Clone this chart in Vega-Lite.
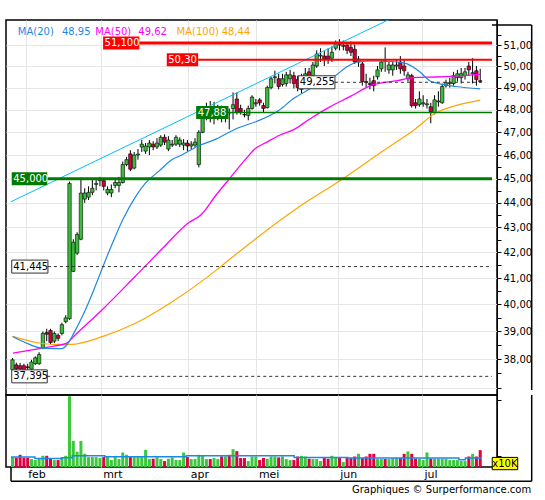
{
"$schema": "https://vega.github.io/schema/vega-lite/v6.json",
"background": "white",
"padding": {"left": 5, "top": 19, "right": 0, "bottom": 0},
"bounds": "flush",
"spacing": 0,
"config": {
  "font": "DejaVu Sans",
  "view": {"stroke": "#000", "strokeWidth": 1.5},
  "axis": {"labelFont": "DejaVu Sans", "labelColor": "#000", "tickColor": "#000", "domainColor": "#000", "gridColor": "#e6e6e6", "labelOverlap": false, "labelFlush": false, "labelBound": false}
},
"datasets": {
"candles": [
{"i":0,"o":37.63,"h":38.04,"l":37.6,"c":37.98,"v":444},
{"i":1,"o":37.8,"h":37.88,"l":37.6,"c":37.66,"v":413},
{"i":2,"o":37.77,"h":37.87,"l":37.56,"c":37.66,"v":546},
{"i":3,"o":37.77,"h":37.84,"l":37.53,"c":37.63,"v":413},
{"i":4,"o":37.73,"h":37.84,"l":37.56,"c":37.7,"v":413},
{"i":5,"o":37.65,"h":37.98,"l":37.6,"c":37.9,"v":355},
{"i":6,"o":37.84,"h":38.1,"l":37.8,"c":38.05,"v":311},
{"i":7,"o":37.84,"h":38.25,"l":37.8,"c":38.17,"v":400},
{"i":8,"o":38.4,"h":39.0,"l":38.36,"c":38.93,"v":502},
{"i":9,"o":38.96,"h":39.1,"l":38.65,"c":38.9,"v":502},
{"i":10,"o":39.04,"h":39.1,"l":38.54,"c":38.6,"v":400},
{"i":11,"o":38.65,"h":39.0,"l":38.58,"c":38.93,"v":311},
{"i":12,"o":38.86,"h":38.93,"l":38.65,"c":38.75,"v":311},
{"i":13,"o":38.93,"h":39.32,"l":38.86,"c":39.25,"v":444},
{"i":14,"o":39.36,"h":39.6,"l":39.3,"c":39.5,"v":502},
{"i":15,"o":39.47,"h":44.88,"l":39.43,"c":44.8,"v":3166},
{"i":16,"o":41.26,"h":42.52,"l":41.23,"c":42.4,"v":1168},
{"i":17,"o":41.97,"h":42.8,"l":41.9,"c":42.71,"v":680},
{"i":18,"o":42.52,"h":45.04,"l":42.48,"c":44.4,"v":1168},
{"i":19,"o":44.15,"h":44.6,"l":43.99,"c":44.4,"v":592},
{"i":20,"o":44.23,"h":44.68,"l":44.11,"c":44.43,"v":444},
{"i":21,"o":44.43,"h":45.0,"l":44.31,"c":44.6,"v":444},
{"i":22,"o":44.76,"h":44.96,"l":44.51,"c":44.8,"v":444},
{"i":23,"o":44.92,"h":45.08,"l":44.68,"c":44.96,"v":400},
{"i":24,"o":44.92,"h":45.0,"l":44.51,"c":44.68,"v":444},
{"i":25,"o":44.4,"h":44.68,"l":44.31,"c":44.55,"v":444},
{"i":26,"o":44.4,"h":44.76,"l":44.23,"c":44.55,"v":311},
{"i":27,"o":44.72,"h":45.0,"l":44.6,"c":44.84,"v":444},
{"i":28,"o":44.72,"h":45.08,"l":44.43,"c":44.84,"v":355},
{"i":29,"o":44.84,"h":45.73,"l":44.8,"c":45.6,"v":650},
{"i":30,"o":45.6,"h":45.93,"l":45.53,"c":45.81,"v":546},
{"i":31,"o":46.06,"h":46.22,"l":45.32,"c":45.4,"v":444},
{"i":32,"o":45.45,"h":46.14,"l":45.4,"c":46.01,"v":444},
{"i":33,"o":46.01,"h":46.27,"l":45.81,"c":46.05,"v":444},
{"i":34,"o":46.36,"h":46.66,"l":46.14,"c":46.48,"v":444},
{"i":35,"o":46.18,"h":46.53,"l":46.06,"c":46.4,"v":768},
{"i":36,"o":46.36,"h":46.66,"l":46.01,"c":46.53,"v":355},
{"i":37,"o":46.48,"h":46.61,"l":46.22,"c":46.36,"v":370},
{"i":38,"o":46.36,"h":46.74,"l":46.27,"c":46.53,"v":444},
{"i":39,"o":46.44,"h":46.87,"l":46.36,"c":46.78,"v":355},
{"i":40,"o":46.78,"h":46.91,"l":46.44,"c":46.57,"v":266},
{"i":41,"o":46.27,"h":46.83,"l":46.18,"c":46.66,"v":370},
{"i":42,"o":46.44,"h":46.66,"l":46.36,"c":46.48,"v":430},
{"i":43,"o":46.48,"h":46.87,"l":46.4,"c":46.78,"v":311},
{"i":44,"o":46.48,"h":46.78,"l":46.36,"c":46.66,"v":311},
{"i":45,"o":46.44,"h":46.7,"l":46.22,"c":46.53,"v":650},
{"i":46,"o":46.53,"h":46.66,"l":46.18,"c":46.4,"v":444},
{"i":47,"o":46.4,"h":46.61,"l":46.27,"c":46.48,"v":355},
{"i":48,"o":46.44,"h":46.74,"l":46.36,"c":46.57,"v":355},
{"i":49,"o":45.6,"h":47.09,"l":45.48,"c":47.0,"v":546},
{"i":50,"o":47.0,"h":48.1,"l":46.96,"c":47.92,"v":502},
{"i":51,"o":47.79,"h":48.32,"l":47.53,"c":48.06,"v":355},
{"i":52,"o":48.14,"h":48.4,"l":47.44,"c":47.79,"v":355},
{"i":53,"o":47.66,"h":48.36,"l":47.35,"c":48.1,"v":400},
{"i":54,"o":47.84,"h":48.23,"l":47.53,"c":47.88,"v":355},
{"i":55,"o":47.97,"h":48.19,"l":47.44,"c":47.7,"v":475},
{"i":56,"o":47.79,"h":48.1,"l":47.44,"c":47.84,"v":475},
{"i":57,"o":47.88,"h":48.06,"l":47.13,"c":47.86,"v":546},
{"i":58,"o":48.06,"h":48.79,"l":47.57,"c":48.23,"v":798},
{"i":59,"o":48.49,"h":48.79,"l":47.79,"c":47.88,"v":709},
{"i":60,"o":48.06,"h":48.23,"l":47.79,"c":47.92,"v":400},
{"i":61,"o":47.79,"h":48.0,"l":47.66,"c":47.77,"v":400},
{"i":62,"o":47.75,"h":48.19,"l":47.53,"c":48.06,"v":266},
{"i":63,"o":48.06,"h":48.66,"l":48.01,"c":48.58,"v":471},
{"i":64,"o":48.27,"h":48.49,"l":48.14,"c":48.32,"v":471},
{"i":65,"o":48.45,"h":48.53,"l":48.19,"c":48.32,"v":313},
{"i":66,"o":48.19,"h":48.32,"l":47.88,"c":48.06,"v":400},
{"i":67,"o":48.1,"h":49.1,"l":48.06,"c":49.01,"v":370},
{"i":68,"o":49.01,"h":49.51,"l":48.93,"c":49.42,"v":470},
{"i":69,"o":49.47,"h":49.79,"l":49.2,"c":49.51,"v":470},
{"i":70,"o":49.42,"h":49.65,"l":48.93,"c":49.06,"v":430},
{"i":71,"o":49.15,"h":49.65,"l":49.06,"c":49.42,"v":470},
{"i":72,"o":49.2,"h":49.74,"l":49.06,"c":49.6,"v":355},
{"i":73,"o":49.42,"h":49.83,"l":49.2,"c":49.6,"v":311},
{"i":74,"o":49.56,"h":49.74,"l":48.97,"c":49.2,"v":311},
{"i":75,"o":49.38,"h":49.56,"l":48.84,"c":49.01,"v":470},
{"i":76,"o":48.93,"h":49.65,"l":48.75,"c":49.47,"v":500},
{"i":77,"o":49.29,"h":49.92,"l":49.1,"c":49.65,"v":470},
{"i":78,"o":49.74,"h":49.92,"l":49.29,"c":49.47,"v":370},
{"i":79,"o":49.56,"h":50.2,"l":49.42,"c":50.06,"v":355},
{"i":80,"o":50.01,"h":50.75,"l":49.92,"c":50.57,"v":355},
{"i":81,"o":50.48,"h":50.85,"l":50.2,"c":50.52,"v":266},
{"i":82,"o":50.48,"h":50.71,"l":50.01,"c":50.34,"v":400},
{"i":83,"o":50.48,"h":50.85,"l":50.11,"c":50.34,"v":370},
{"i":84,"o":50.38,"h":50.94,"l":50.2,"c":50.66,"v":500},
{"i":85,"o":50.85,"h":51.22,"l":50.75,"c":51.08,"v":400},
{"i":86,"o":51.03,"h":51.28,"l":50.75,"c":51.0,"v":400},
{"i":87,"o":50.94,"h":51.22,"l":50.75,"c":50.99,"v":222},
{"i":88,"o":50.99,"h":51.13,"l":50.57,"c":50.75,"v":400},
{"i":89,"o":50.89,"h":51.17,"l":50.48,"c":50.66,"v":400},
{"i":90,"o":50.8,"h":51.03,"l":50.11,"c":50.2,"v":470},
{"i":91,"o":50.2,"h":50.48,"l":49.97,"c":50.34,"v":590},
{"i":92,"o":50.11,"h":50.25,"l":49.1,"c":49.29,"v":400},
{"i":93,"o":49.29,"h":49.65,"l":49.01,"c":49.24,"v":470},
{"i":94,"o":49.2,"h":49.47,"l":48.93,"c":49.15,"v":590},
{"i":95,"o":49.33,"h":49.56,"l":48.84,"c":49.1,"v":590},
{"i":96,"o":49.51,"h":50.01,"l":49.38,"c":49.83,"v":355},
{"i":97,"o":49.88,"h":50.34,"l":49.74,"c":50.2,"v":355},
{"i":98,"o":50.25,"h":50.89,"l":49.74,"c":50.23,"v":355},
{"i":99,"o":49.83,"h":50.2,"l":49.65,"c":50.06,"v":355},
{"i":100,"o":49.83,"h":50.2,"l":49.56,"c":50.06,"v":400},
{"i":101,"o":50.01,"h":50.34,"l":49.83,"c":50.06,"v":400},
{"i":102,"o":50.2,"h":50.48,"l":49.65,"c":49.88,"v":400},
{"i":103,"o":50.01,"h":50.29,"l":49.56,"c":49.79,"v":590},
{"i":104,"o":49.42,"h":49.74,"l":49.29,"c":49.6,"v":697},
{"i":105,"o":49.56,"h":49.65,"l":48.1,"c":48.19,"v":590},
{"i":106,"o":48.32,"h":48.49,"l":48.06,"c":48.19,"v":370},
{"i":107,"o":48.23,"h":48.84,"l":48.14,"c":48.49,"v":370},
{"i":108,"o":48.27,"h":48.66,"l":48.14,"c":48.32,"v":311},
{"i":109,"o":48.23,"h":48.49,"l":48.06,"c":48.27,"v":652},
{"i":110,"o":48.14,"h":48.32,"l":47.4,"c":47.92,"v":370},
{"i":111,"o":47.88,"h":48.66,"l":47.79,"c":48.45,"v":370},
{"i":112,"o":48.36,"h":48.84,"l":48.14,"c":48.4,"v":370},
{"i":113,"o":48.32,"h":49.2,"l":48.27,"c":49.06,"v":370},
{"i":114,"o":49.1,"h":49.38,"l":49.01,"c":49.24,"v":370},
{"i":115,"o":49.2,"h":49.47,"l":49.01,"c":49.24,"v":311},
{"i":116,"o":49.2,"h":49.74,"l":49.1,"c":49.56,"v":311},
{"i":117,"o":49.47,"h":49.83,"l":49.29,"c":49.65,"v":311},
{"i":118,"o":49.47,"h":49.92,"l":49.2,"c":49.65,"v":266},
{"i":119,"o":49.56,"h":49.92,"l":49.38,"c":49.74,"v":266},
{"i":120,"o":50.01,"h":50.2,"l":49.56,"c":49.83,"v":470},
{"i":121,"o":49.65,"h":50.38,"l":49.2,"c":49.7,"v":590},
{"i":122,"o":49.79,"h":50.01,"l":49.1,"c":49.38,"v":470},
{"i":123,"o":49.33,"h":49.88,"l":49.24,"c":49.29,"v":755}
],
"ma20": [
{"i":0,"p":38.82},{"i":3.2,"p":38.61},{"i":7.6,"p":38.4},{"i":13.0,"p":38.38},{"i":14.3,"p":38.51},{"i":16.1,"p":38.93},{"i":18.7,"p":39.65},{"i":21.3,"p":40.52},{"i":23.8,"p":41.45},{"i":26.4,"p":42.4},{"i":29.0,"p":43.3},{"i":32.3,"p":44.23},{"i":34.9,"p":44.8},{"i":38.5,"p":45.32},{"i":41.9,"p":45.81},{"i":44.5,"p":46.01},{"i":48.8,"p":46.4},{"i":53.5,"p":46.7},{"i":59.1,"p":47.18},{"i":64.2,"p":47.48},{"i":70.0,"p":47.97},{"i":74.1,"p":48.53},{"i":78.0,"p":48.93},{"i":81.8,"p":49.29},{"i":84.9,"p":49.56},{"i":87.5,"p":49.92},{"i":90.8,"p":50.2},{"i":95.2,"p":50.25},{"i":101.2,"p":50.2},{"i":103.8,"p":50.11},{"i":107.1,"p":49.74},{"i":109.7,"p":49.33},{"i":112.0,"p":49.2},{"i":116.6,"p":49.06},{"i":123,"p":48.95}
],
"ma50": [
{"i":0.1,"p":38.22},{"i":7.9,"p":38.4},{"i":11.0,"p":38.47},{"i":14.3,"p":38.58},{"i":16.1,"p":38.82},{"i":23.8,"p":39.83},{"i":32.3,"p":41.07},{"i":39.3,"p":42.13},{"i":46.3,"p":43.18},{"i":49.6,"p":43.51},{"i":53.5,"p":44.31},{"i":57.3,"p":45.05},{"i":61.2,"p":45.81},{"i":63.8,"p":46.28},{"i":66.9,"p":46.57},{"i":70.2,"p":46.87},{"i":74.1,"p":47.13},{"i":78.0,"p":47.57},{"i":83.1,"p":48.1},{"i":89.0,"p":48.62},{"i":94.2,"p":49.1},{"i":101.2,"p":49.33},{"i":105.5,"p":49.47},{"i":111.5,"p":49.5},{"i":123,"p":49.62}
],
"ma100": [
{"i":0.1,"p":38.82},{"i":6.6,"p":38.59},{"i":11.0,"p":38.53},{"i":15.3,"p":38.53},{"i":23.8,"p":38.82},{"i":32.3,"p":39.3},{"i":41.1,"p":40.02},{"i":50.9,"p":41.0},{"i":54.8,"p":41.45},{"i":63.8,"p":42.52},{"i":75.4,"p":43.83},{"i":86.5,"p":44.96},{"i":97.8,"p":46.23},{"i":105.5,"p":47.09},{"i":111.5,"p":47.88},{"i":114.8,"p":48.1},{"i":123,"p":48.44}
],
"trend": [{"i":-0.39,"p":44.04},{"i":99.95,"p":52.32}],
"levels": [
{"level":51.1,"label":"51,100","kind":"r1","bx":23.83,"lx":33.36,"ex":126.1},
{"level":50.3,"label":"50,30","kind":"r2","bx":40.57,"lx":48.82,"ex":126.1},
{"level":47.88,"label":"47,88","kind":"s1","bx":48.3,"lx":56.8,"ex":126.1},
{"level":45.0,"label":"45,000","kind":"s2","bx":-0.2,"lx":9.14,"ex":126.1},
{"level":41.445,"label":"41,445","kind":"d","bx":-0.2,"lx":9.32,"ex":126.1},
{"level":37.395,"label":"37,395","kind":"d","bx":-0.2,"lx":9.14,"ex":126.1},
{"level":49.255,"label":"49,255","kind":"d","bx":75.17,"lx":84.8,"ex":124.3}
],
"vavg": [
{"i":-0.39,"v":447},{"i":5.9,"v":385},{"i":13.1,"v":416},{"i":15.7,"v":506},{"i":24.3,"v":461},{"i":45.7,"v":506},{"i":74.1,"v":430},{"i":88.2,"v":403},{"i":117.4,"v":327},{"i":119.1,"v":403},{"i":123.4,"v":403}
]
},
"vconcat": [
{
"width": 491, "height": 375,
"layer": [
{"data": {"name": "candles"},
 "mark": {"type": "rule", "color": "#000", "strokeWidth": 1},
 "encoding": {
  "x": {"field": "i", "type": "quantitative", "scale": {"domain": [-0.39, 126.1], "nice": false, "zero": false},
        "axis": {"values": [3.47, 23.18, 46.24, 64.14, 85.53, 107.68], "labels": false, "ticks": false, "domain": false, "grid": true, "title": null, "minExtent": 0, "maxExtent": 0}},
  "y": {"field": "l", "type": "quantitative", "scale": {"type": "log", "domain": [36.92, 51.97], "nice": false, "zero": false},
        "axis": {"orient": "right", "title": null, "values": [37,37.5,38,38.5,39,39.5,40,40.5,41,41.5,42,42.5,43,43.5,44,44.5,45,45.5,46,46.5,47,47.5,48,48.5,49,49.5,50,50.5,51,51.5],
                 "labelExpr": "datum.value % 1 === 0 && datum.value >= 38 ? replace(format(datum.value, '.2f'), '.', ',') : ''",
                 "tickSize": 4, "labelFontSize": 10, "labelPadding": 2, "grid": true,
                 "gridOpacity": {"condition": {"test": "datum.value % 1 !== 0", "value": 0}, "value": 1}}},
  "y2": {"field": "h"}
 }},
{"data": {"name": "candles"},
 "mark": {"type": "bar", "width": 3.4, "stroke": "#000", "strokeWidth": 0.6},
 "encoding": {
  "x": {"field": "i", "type": "quantitative"},
  "y": {"field": "o", "type": "quantitative"},
  "y2": {"field": "c"},
  "fill": {"condition": {"test": "datum.c > datum.o", "value": "#3cbc3c"}, "value": "#d4003a"}
 }},
{"data": {"name": "trend"},
 "mark": {"type": "line", "color": "#00bfff", "strokeWidth": 1, "clip": true},
 "encoding": {"x": {"field": "i", "type": "quantitative"}, "y": {"field": "p", "type": "quantitative"}}},
{"data": {"name": "ma100"},
 "mark": {"type": "line", "color": "#ffa500", "strokeWidth": 1.2, "interpolate": "monotone"},
 "encoding": {"x": {"field": "i", "type": "quantitative"}, "y": {"field": "p", "type": "quantitative"}}},
{"data": {"name": "ma50"},
 "mark": {"type": "line", "color": "#ff00ff", "strokeWidth": 1.3, "interpolate": "monotone"},
 "encoding": {"x": {"field": "i", "type": "quantitative"}, "y": {"field": "p", "type": "quantitative"}}},
{"data": {"name": "ma20"},
 "mark": {"type": "line", "color": "#1e88e5", "strokeWidth": 1.2, "interpolate": "monotone"},
 "encoding": {"x": {"field": "i", "type": "quantitative"}, "y": {"field": "p", "type": "quantitative"}}},
{"data": {"name": "levels"},
 "mark": {"type": "rule"},
 "encoding": {
  "x": {"field": "lx", "type": "quantitative"},
  "x2": {"field": "ex"},
  "y": {"field": "level", "type": "quantitative"},
  "color": {"condition": [{"test": "datum.kind === 'r1' || datum.kind === 'r2'", "value": "#ff0000"}, {"test": "datum.kind === 'd'", "value": "#333333"}], "value": "#007a00"},
  "strokeWidth": {"condition": [{"test": "datum.kind === 'r1' || datum.kind === 's2'", "value": 3}, {"test": "datum.kind === 'r2'", "value": 2}, {"test": "datum.kind === 's1'", "value": 1.5}], "value": 1},
  "strokeDash": {"condition": {"test": "datum.kind === 'd'", "value": [3, 3]}, "value": [1, 0]}
 }},
{"data": {"name": "levels"},
 "mark": {"type": "bar", "height": 13, "stroke": "#333"},
 "encoding": {
  "x": {"field": "bx", "type": "quantitative"},
  "x2": {"field": "lx"},
  "y": {"field": "level", "type": "quantitative"},
  "fill": {"condition": [{"test": "datum.kind === 'r1' || datum.kind === 'r2'", "value": "#ff0000"}, {"test": "datum.kind === 'd'", "value": "#ffffff"}], "value": "#007a00"},
  "strokeWidth": {"condition": {"test": "datum.kind === 'd'", "value": 1}, "value": 0}
 }},
{"data": {"name": "levels"},
 "mark": {"type": "text", "align": "left", "baseline": "middle", "dx": 1.5, "fontSize": 10},
 "encoding": {
  "x": {"field": "bx", "type": "quantitative"},
  "y": {"field": "level", "type": "quantitative"},
  "text": {"field": "label"},
  "color": {"condition": {"test": "datum.kind === 'd'", "value": "#000000"}, "value": "#ffffff"}
 }},
{"data": {"values": [{}]}, "mark": {"type": "text", "align": "left", "baseline": "middle", "fontSize": 10, "color": "#1e88e5"},
 "encoding": {"x": {"datum": 1.41}, "y": {"datum": 51.64}, "text": {"value": "MA(20)"}}},
{"data": {"values": [{}]}, "mark": {"type": "text", "align": "left", "baseline": "middle", "fontSize": 10, "color": "#1e88e5"},
 "encoding": {"x": {"datum": 13.01}, "y": {"datum": 51.64}, "text": {"value": "48,95"}}},
{"data": {"values": [{}]}, "mark": {"type": "text", "align": "left", "baseline": "middle", "fontSize": 10, "color": "#ff00ff"},
 "encoding": {"x": {"datum": 21.77}, "y": {"datum": 51.64}, "text": {"value": "MA(50)"}}},
{"data": {"values": [{}]}, "mark": {"type": "text", "align": "left", "baseline": "middle", "fontSize": 10, "color": "#ff00ff"},
 "encoding": {"x": {"datum": 33.1}, "y": {"datum": 51.64}, "text": {"value": "49,62"}}},
{"data": {"values": [{}]}, "mark": {"type": "text", "align": "left", "baseline": "middle", "fontSize": 10, "color": "#ffa500"},
 "encoding": {"x": {"datum": 43.15}, "y": {"datum": 51.64}, "text": {"value": "MA(100)"}}},
{"data": {"values": [{}]}, "mark": {"type": "text", "align": "left", "baseline": "middle", "fontSize": 10, "color": "#ffa500"},
 "encoding": {"x": {"datum": 55.0}, "y": {"datum": 51.64}, "text": {"value": "48,44"}}},
{"data": {"values": [{}]}, "mark": {"type": "rule", "color": "#000", "strokeWidth": 1.5},
 "encoding": {"x": {"datum": 126.1}, "x2": {"datum": 136.54}, "y": {"datum": 51.97}}},
{"data": {"values": [{}]}, "mark": {"type": "rule", "color": "#000", "strokeWidth": 1.5},
 "encoding": {"x": {"datum": 136.54}, "y": {"datum": 51.97}, "y2": {"datum": 36.92}}}
]
},
{
"width": 491, "height": 72,
"layer": [
{"data": {"name": "candles"},
 "mark": {"type": "bar", "width": 3},
 "encoding": {
  "x": {"field": "i", "type": "quantitative", "scale": {"domain": [-0.39, 126.1], "nice": false, "zero": false},
        "axis": {"values": [3.47, 23.18, 46.24, 64.14, 85.53, 107.68], "title": null,
                 "labelExpr": "datum.value < 10 ? 'feb' : datum.value < 30 ? 'mrt' : datum.value < 55 ? 'apr' : datum.value < 75 ? 'mei' : datum.value < 95 ? 'jun' : 'jul'",
                 "labelAlign": "left", "labelOffset": 2, "labelPadding": 1, "labelFontSize": 11, "ticks": false, "domain": false, "grid": true}},
  "y": {"field": "v", "type": "quantitative", "scale": {"domain": [0, 3222], "nice": false},
        "axis": {"orient": "right", "title": null, "values": [500, 1000, 1500, 2000, 2500, 3000],
                 "labelExpr": "datum.value === 2000 ? '2000' : ''", "tickSize": 4, "labelFontSize": 10, "labelPadding": 2, "grid": true,
                 "gridOpacity": {"condition": {"test": "datum.value !== 2000", "value": 0}, "value": 1}}},
  "fill": {"condition": {"test": "datum.c > datum.o", "value": "#3cc83c"}, "value": "#dd0044"}
 }},
{"data": {"name": "vavg"},
 "mark": {"type": "line", "color": "#1e88e5", "strokeWidth": 1.5, "interpolate": "step-after"},
 "encoding": {"x": {"field": "i", "type": "quantitative"}, "y": {"field": "v", "type": "quantitative"}}},
{"data": {"values": [{}]}, "mark": {"type": "rect", "fill": "#ffff00", "stroke": "#000", "strokeWidth": 1},
 "encoding": {"x": {"datum": 126.16}, "x2": {"datum": 132.86}, "y": {"datum": 430}, "y2": {"datum": -121}}},
{"data": {"values": [{}]}, "mark": {"type": "text", "align": "center", "baseline": "middle", "fontSize": 10, "color": "#000"},
 "encoding": {"x": {"datum": 129.5}, "y": {"datum": 155}, "text": {"value": "x10K"}}},
{"data": {"values": [{}]}, "mark": {"type": "rule", "color": "#000", "strokeWidth": 1.5},
 "encoding": {"x": {"datum": 136.54}, "y": {"datum": 3222}, "y2": {"datum": -640}}},
{"data": {"values": [{}]}, "mark": {"type": "rule", "color": "#000", "strokeWidth": 1.5},
 "encoding": {"x": {"datum": -0.39}, "x2": {"datum": 136.54}, "y": {"datum": -640}}},
{"data": {"values": [{}]}, "mark": {"type": "rule", "color": "#000", "strokeWidth": 1.5},
 "encoding": {"x": {"datum": -0.39}, "y": {"datum": 0}, "y2": {"datum": -640}}},
{"data": {"values": [{}]}, "mark": {"type": "text", "align": "right", "baseline": "middle", "fontSize": 10, "color": "#000"},
 "encoding": {"x": {"datum": 136.4}, "y": {"datum": -1047}, "text": {"value": "Graphiques © Surperformance.com"}}}
]
}
]
}
